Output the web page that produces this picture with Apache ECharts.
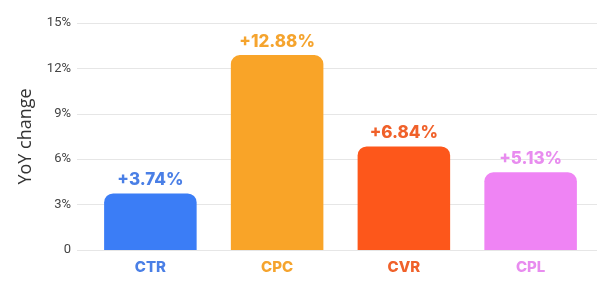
<!DOCTYPE html>
<html><head><meta charset="utf-8">
<script src="https://cdn.jsdelivr.net/npm/echarts@6/dist/echarts.min.js"></script>
<style>html,body{margin:0;padding:0;background:#fff}#c{width:616px;height:286px}</style>
</head><body><div id="c"></div>
<script>
const categories = ['CTR', 'CPC', 'CVR', 'CPL'];
const values = [3.74, 12.88, 6.84, 5.13];
const barColors = ['#3B7DF6', '#F9A428', '#FD571B', '#EF84F4'];
const labelColors = ['#4A7FE6', '#F5A42E', '#F0612A', '#E88CEF'];
const yTicks = [0, 3, 6, 9, 12, 15];

const FONT = 'Inter';
const chart = echarts.init(document.getElementById('c'), null, {renderer: 'canvas'});
const rich = {};
categories.forEach(function(c, i){ rich['c' + i] = {color: labelColors[i], fontFamily: FONT, fontWeight: 800, fontSize: 15}; });
chart.setOption({
  animation: false,
  grid: [
    {left: 77, right: 19, top: 23, bottom: 36},
    {left: 87, right: 22, top: 23, bottom: 36}
  ],
  xAxis: [
    {type: 'category', gridIndex: 0, data: categories, show: false},
    {type: 'category', gridIndex: 1, data: categories,
     axisLine: {show: false}, axisTick: {show: false},
     axisLabel: {margin: 10,
       formatter: function(v){ return '{c' + categories.indexOf(v) + '|' + v + '}'; },
       rich: rich}}
  ],
  yAxis: [
    {type: 'value', gridIndex: 0, min: yTicks[0], max: yTicks[yTicks.length-1], interval: 3,
     name: 'YoY change', nameLocation: 'middle', nameGap: 42, nameRotate: 90,
     nameTextStyle: {fontFamily: 'Open Sans', fontSize: 18, color: '#333'},
     axisLine: {show: false}, axisTick: {show: false},
     axisLabel: {fontFamily: 'Roboto', fontSize: 13, color: '#444', margin: 6,
       formatter: function(v){ return v === 0 ? '0' : v + '%'; }},
     splitLine: {lineStyle: {color: '#e6e6e6', width: 1}}},
    {type: 'value', gridIndex: 1, min: yTicks[0], max: yTicks[yTicks.length-1], interval: 3, show: false,
     splitLine: {show: false}}
  ],
  series: [{
    type: 'bar', xAxisIndex: 1, yAxisIndex: 1,
    barWidth: '73%',
    data: values.map(function(v, i){
      return {value: v,
        itemStyle: {color: barColors[i], borderRadius: [9, 9, 0, 0]},
        label: {color: labelColors[i]}};
    }),
    label: {show: true, position: 'top', distance: 5,
      fontFamily: FONT, fontWeight: 800, fontSize: 17,
      formatter: function(p){ return '+' + p.value.toFixed(2) + '%'; }}
  }]
});
</script></body></html>
